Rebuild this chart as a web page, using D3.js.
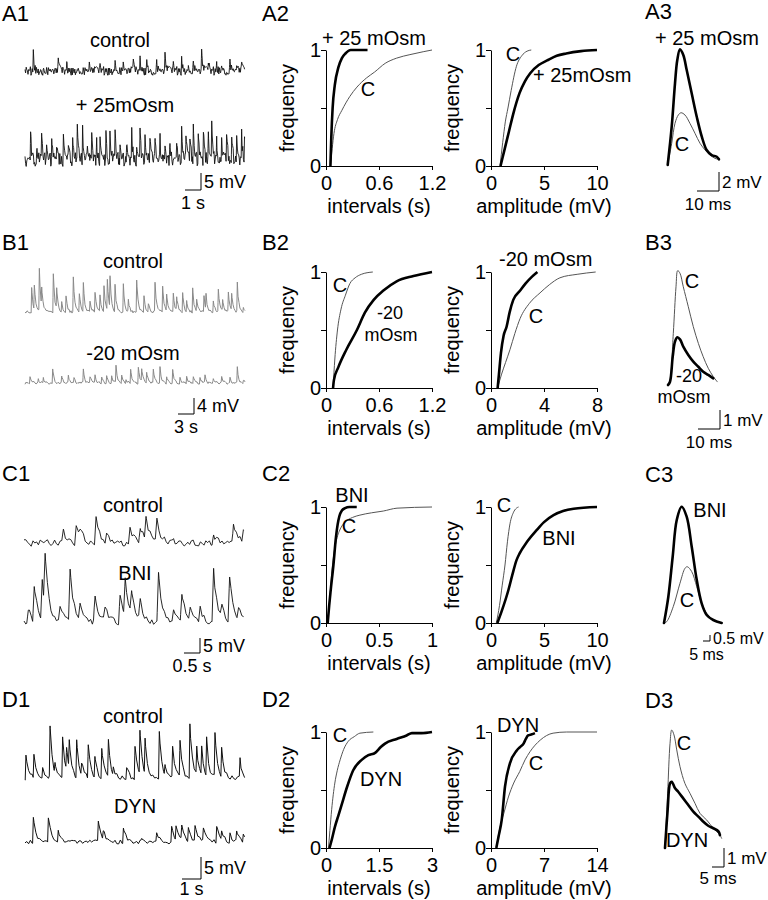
<!DOCTYPE html>
<html><head><meta charset="utf-8">
<script src="https://cdn.jsdelivr.net/npm/d3@7"></script>
<style>
body{margin:0;background:#fff}
svg text{font-family:"Liberation Sans",Arial,sans-serif;fill:#000}
</style>
</head><body>
<svg id="c" width="768" height="900"></svg>
<script>
// ================= DATA =================
// hand-typed baseline noise template (unitless, -1..1)
const NOISE = [0.3,-0.6,0.9,-0.2,-0.8,0.5,0.1,-0.4,0.7,-0.9,0.2,0.6,-0.3,-0.7,0.8,0.0,-0.5,0.4,-0.1,0.9,-0.6,0.3,-0.8,0.5,0.2,-0.4,0.6,-0.9,0.1,0.7,-0.2,-0.6,0.4,0.8,-0.3,-0.7,0.2,0.5,-0.1,-0.8,0.9,-0.4,0.3,0.0,-0.5,0.6,-0.2,0.8,-0.7,0.1,0.4,-0.9,0.5,-0.3,0.7,-0.6,0.2,-0.1,0.6,-0.4,0.3];

// Column 1 traces: events [time (s), amplitude (mV)]
const A1_CONTROL = [[0.52,5.6],[1.14,1.8],[2.08,2.6],[2.61,1.5],[3.33,1.8],[4.02,2.1],[4.69,1.8],[5.63,4.1],[6.14,2.1],[6.77,2.4],[7.19,3.2],[7.61,3.5],[8.23,2.4],[8.75,4.7],[9.27,2.4],[9.79,3.5],[10.21,2.6],[10.52,2.9],[11.04,5.6],[11.46,2.9],[11.98,2.1],[12.29,2.6],[12.81,3.5],[13.23,2.4],[13.54,1.8]];
const A1_OSM = [[0.35,8.3],[0.73,3.9],[1.04,6.4],[1.35,5.9],[1.67,6.9],[1.98,5.4],[2.40,7.8],[2.71,5.9],[2.98,7.8],[3.27,8.8],[3.60,9.8],[3.90,5.9],[4.17,7.8],[4.48,4.9],[4.69,6.9],[5.06,7.4],[5.31,7.8],[5.63,7.4],[5.94,5.9],[6.35,4.9],[6.67,8.3],[6.98,3.9],[7.19,9.3],[7.50,9.3],[7.81,5.9],[8.13,7.8],[8.44,5.9],[8.75,3.9],[9.06,5.9],[9.48,4.9],[9.79,11.8],[10.06,7.8],[10.31,6.9],[10.52,10.8],[10.83,8.3],[11.15,9.8],[11.46,9.3],[11.67,10.8],[11.98,5.9],[12.29,4.9],[12.60,8.3],[12.92,6.9],[13.23,5.9],[13.54,7.8],[13.72,5.4]];
const B1_CONTROL = [[1.25,5.8],[1.75,6.1],[2.69,10.4],[3.13,4.6],[5.31,9.8],[5.94,5.4],[6.88,2.5],[7.69,4.2],[9.06,8.6],[10.19,4.6],[10.94,7.3],[12.19,2.9],[13.13,5.0],[14.06,3.8],[14.81,6.1],[15.44,7.5],[15.94,7.9],[16.88,6.4],[18.44,7.1],[19.38,2.9],[20.94,7.9],[22.31,4.2],[23.13,2.1],[24.38,7.5],[25.81,6.4],[26.56,3.8],[27.81,4.6],[28.44,3.8],[29.56,5.0],[30.31,2.9],[31.44,5.8],[32.19,2.9],[33.56,4.2],[33.94,3.8],[35.31,2.9],[36.25,5.4],[37.06,2.9],[38.13,4.6],[38.75,4.2],[39.81,7.1],[40.94,1.3]];
const B1_M20 = [[0.94,1.3],[2.5,0.8],[3.44,1.3],[5.19,3.3],[6.88,1.7],[8.13,1.7],[9.19,1.3],[10.94,3.2],[12.19,1.7],[13.13,1.7],[14.38,1.3],[15.31,1.7],[16.25,1.7],[17.06,4.6],[18.13,1.7],[18.94,0.8],[19.81,3.3],[21.25,4.2],[21.88,3.3],[22.81,2.9],[24.06,3.3],[25.31,3.8],[26.56,1.7],[27.69,3.3],[29.06,1.3],[30.31,1.7],[31.56,1.7],[32.81,1.3],[33.75,1.7],[35.31,0.8],[36.88,1.7],[38.44,1.3],[39.81,3.8],[40.94,0.8]];
const C1_CONTROL = [[1.23,4.4],[1.63,6.1],[1.75,2.8],[2.25,8.0],[2.58,2.2],[3.31,4.4],[3.63,5.6],[3.81,7.2],[4.15,6.7],[4.67,1.1],[5.92,2.8],[6.54,7.2],[6.85,2.8]];
const C1_BNI = [[0.135,4.4],[0.32,12.2],[0.57,12.2],[0.66,16.7],[1.125,5.6],[1.44,17.2],[1.75,5.6],[2.22,9.4],[2.53,5.6],[3.0,8.9],[3.16,12.8],[3.36,7.8],[3.63,6.7],[4.2,16.7],[4.67,3.3],[4.93,10.0],[5.19,4.4],[5.5,4.4],[5.92,17.2],[6.18,3.3],[6.42,14.4],[6.7,3.9]];
const D1_CONTROL = [[0.05,4.9],[0.47,5.3],[0.93,1.9],[1.32,11.4],[1.58,2.7],[1.98,8.9],[2.19,4.9],[2.33,6.4],[2.72,8.3],[2.98,2.7],[3.33,7.6],[3.68,4.9],[4.04,6.4],[4.39,8.3],[4.65,1.9],[5.35,2.7],[5.79,7.6],[6.05,9.8],[6.32,8.0],[7.07,10.2],[7.37,2.7],[7.77,6.8],[8.16,8.0],[8.68,12.5],[9.04,6.1],[9.3,6.4],[9.56,8.3],[10.0,9.8],[10.35,6.8],[11.32,4.2]];
const D1_DYN = [[0.44,5.7],[1.23,5.5],[1.75,2.7],[3.86,4.5],[4.12,1.9],[5.18,3.4],[6.14,1.1],[6.93,1.9],[7.72,3.6],[7.95,3.0],[8.25,3.0],[8.6,2.7],[8.95,3.4],[9.39,2.7],[10.09,3.8],[10.35,1.9],[10.79,1.5],[11.14,2.7],[11.49,1.9]];

// Column 2: cumulative distributions [value, cumulative frequency]
const A2_INT_OSM = [[0.05,0],[0.06,0.25],[0.075,0.5],[0.1,0.7],[0.14,0.85],[0.18,0.93],[0.22,0.97],[0.28,1],[0.47,1]];
const A2_INT_C = [[0.05,0],[0.07,0.15],[0.09,0.28],[0.13,0.4],[0.18,0.48],[0.27,0.6],[0.35,0.68],[0.46,0.76],[0.55,0.81],[0.67,0.885],[0.8,0.93],[0.95,0.96],[1.1,0.985],[1.2,1]];
const A2_AMP_C = [[0.85,0],[1.1,0.2],[1.35,0.38],[1.6,0.5],[1.9,0.65],[2.4,0.86],[2.9,0.95],[3.4,0.99],[3.8,1]];
const A2_AMP_OSM = [[0.9,0],[1.3,0.15],[1.7,0.3],[2.1,0.45],[2.7,0.63],[3.2,0.73],[3.7,0.8],[4.5,0.87],[5.3,0.91],[6.2,0.95],[7.1,0.97],[8.5,0.99],[10,1]];
const B2_INT_C = [[0.08,0],[0.1,0.25],[0.13,0.5],[0.17,0.68],[0.22,0.8],[0.27,0.9],[0.33,0.95],[0.4,0.98],[0.53,1]];
const B2_INT_M20 = [[0.08,0],[0.09,0.07],[0.14,0.18],[0.23,0.33],[0.35,0.5],[0.44,0.65],[0.54,0.76],[0.65,0.84],[0.8,0.92],[0.99,0.965],[1.2,1]];
const B2_AMP_M20 = [[0.5,0],[0.6,0.12],[0.75,0.3],[0.95,0.45],[1.18,0.53],[1.4,0.65],[1.68,0.76],[2.2,0.84],[2.6,0.9],[3.1,0.96],[3.5,1]];
const B2_AMP_C = [[0.5,0],[0.8,0.12],[1.1,0.22],[1.43,0.33],[1.8,0.47],[2.2,0.6],[2.9,0.73],[3.7,0.82],[4.4,0.89],[5.2,0.95],[6.5,0.98],[7.9,1]];
const C2_INT_BNI = [[0.016,0],[0.03,0.15],[0.044,0.28],[0.07,0.5],[0.094,0.74],[0.11,0.85],[0.126,0.92],[0.15,0.97],[0.18,0.99],[0.22,1],[0.29,1]];
const C2_INT_C = [[0.016,0],[0.035,0.2],[0.054,0.43],[0.075,0.6],[0.1,0.72],[0.14,0.82],[0.18,0.87],[0.25,0.91],[0.32,0.93],[0.43,0.95],[0.54,0.965],[0.67,0.99],[1,1]];
const C2_AMP_BNI = [[0.6,0],[1.0,0.1],[1.63,0.28],[2.0,0.41],[2.4,0.54],[2.7,0.6],[3.4,0.7],[4.3,0.8],[5.0,0.87],[5.9,0.93],[6.8,0.965],[7.8,0.985],[10,1]];
const C2_AMP_C = [[0.5,0],[0.8,0.15],[1.05,0.32],[1.32,0.5],[1.55,0.7],[1.8,0.86],[2.1,0.95],[2.4,0.99],[2.6,1]];
const D2_INT_C = [[0.07,0],[0.11,0.15],[0.16,0.33],[0.25,0.56],[0.32,0.67],[0.4,0.76],[0.5,0.85],[0.63,0.92],[0.8,0.96],[0.96,0.99],[1.34,1]];
const D2_INT_DYN = [[0.1,0],[0.17,0.08],[0.25,0.18],[0.35,0.28],[0.44,0.37],[0.6,0.53],[0.77,0.67],[1.01,0.76],[1.2,0.8],[1.39,0.82],[1.55,0.87],[1.67,0.9],[2.0,0.94],[2.28,0.97],[2.43,0.99],[2.7,0.99],[3.0,1]];
const D2_AMP_DYN = [[0.7,0],[1.0,0.1],[1.41,0.24],[1.85,0.53],[2.5,0.73],[3.4,0.84],[3.83,0.87],[4.3,0.9],[4.6,0.94],[4.9,0.97],[5.4,0.98],[5.8,0.99]];
const D2_AMP_C = [[0.7,0],[1.19,0.18],[1.7,0.3],[2.3,0.44],[3.0,0.56],[3.8,0.66],[4.5,0.76],[5.15,0.83],[6.5,0.93],[8.2,0.99],[10,1],[14,1]];

// Column 3: averaged EPSPs [time (ms), mV]
const A3_OSM = [[0,0],[1.82,4.03],[3.32,8.6],[4.36,11.05],[5.59,12.18],[7.09,11.58],[8.64,10],[10.9,7.55],[13.2,5.08],[15.5,2.98],[17.7,1.58],[20,1.05],[22.3,0.87],[23.3,0.6]];
const A3_C = [[0,0],[1.82,2.28],[3.32,4.39],[4.82,5.26],[6.05,5.5],[7.86,5.26],[10.1,4.39],[12.4,3.34],[14.7,2.28],[17,1.58],[19.2,1.05],[21.5,0.7],[23,0.6]];
const B3_C = [[0,0],[0.91,0.26],[2.41,2.72],[3.64,5.17],[4.41,6.02],[5.45,5.88],[6.95,5.17],[9.23,4.12],[11.5,3.07],[13.8,2.19],[16.0,1.49],[18.3,0.88],[20.6,0.44],[22.4,0.17]];
const B3_M20 = [[0,0],[0.91,0.17],[2.14,1.49],[3.18,2.28],[4.23,2.51],[5.45,2.4],[6.95,2.02],[9.23,1.58],[11.5,1.23],[13.8,0.96],[16.0,0.7],[18.3,0.53],[20.6,0.35]];
const C3_BNI = [[0,0],[3.1,2.19],[6.2,5.52],[9.1,8.58],[12.6,9.69],[16.2,8.86],[19.8,6.36],[23.4,3.58],[26.9,1.64],[30.5,0.67],[35.2,0.25],[41.2,0]];
const C3_C = [[0,0],[1.9,0.11],[6.6,1.36],[11.4,3.31],[15,4.56],[16.6,4.69],[19.8,4.28],[23.4,3.03],[26.9,1.64],[30.5,0.81],[35.2,0.25],[39.5,0.06]];
const D3_C = [[0,0],[1.1,2.88],[2.1,5.51],[2.8,6.21],[3.75,5.95],[4.9,5.16],[6.25,4.28],[8.3,3.4],[10.4,2.88],[12.5,2.35],[14.6,1.82],[17.4,1.47],[20.1,1.04],[22.9,0.68],[23.6,0.51]];
const D3_DYN = [[0,0],[1.1,2.0],[2.1,3.4],[2.8,3.49],[4.2,3.14],[5.5,2.96],[7.6,2.61],[9.7,2.26],[11.8,1.91],[13.9,1.65],[16,1.38],[18,1.17],[20.1,1.04],[22.2,0.89],[22.9,0.68]];

// ================= DRAWING =================
const svg = d3.select('#c');
const FS = 20;
function text(x, y, s, anchor, size) {
  return svg.append('text').attr('x', x).attr('y', y)
    .attr('text-anchor', anchor || 'start').attr('font-size', size || FS).text(s);
}

// panel letters
[["A1",2,21],["A2",262,21],["A3",645,19],["B1",2,250],["B2",262,250],["B3",645,250],
 ["C1",2,481],["C2",262,481],["C3",645,482],["D1",2,707],["D2",262,707],["D3",645,708]]
 .forEach(([s,x,y]) => text(x, y, s, 'start', 22));

// ---------- column 1: raw traces ----------
function trace(c) {
  const x = d3.scaleLinear().domain([0, c.dur]).range([c.x0, c.x1]);
  const y = d3.scaleLinear().domain([0, 1]).range([c.yb, c.yb - c.pxmv]);
  const dt = c.step / (x(1) - x(0));
  const ts = [];
  for (let t = 0; t <= c.dur + 1e-9; t += dt) ts.push(t);
  c.events.forEach(([ti]) => { ts.push(ti); ts.push(ti - c.rise); });
  ts.sort((a, b) => a - b);
  const pts = ts.filter(t => t >= 0 && t <= c.dur).map(t => {
    const k = Math.round(t / dt);
    let v = c.noise * NOISE[(k * c.stride + c.off) % NOISE.length];
    c.events.forEach(([ti, a]) => {
      if (t >= ti) v += a * Math.exp(-(t - ti) / c.tau);
      else if (t >= ti - c.rise) v += a * (1 - (ti - t) / c.rise);
    });
    return [t, v];
  });
  svg.append('path').datum(pts)
    .attr('d', d3.line().x(d => x(d[0])).y(d => y(d[1])))
    .attr('fill', 'none').attr('stroke', c.color).attr('stroke-width', c.w)
    .attr('stroke-linejoin', 'round');
  return {x, y};
}
function scaleBar(sc, cx, cy, tval, vval, tlab, vlab, tdy, fs) {
  const w = sc.x(tval) - sc.x(0), h = sc.y(0) - sc.y(vval);
  svg.append('path').attr('d', `M${cx - w},${cy}H${cx}V${cy - h}`)
    .attr('fill', 'none').attr('stroke', '#000').attr('stroke-width', 1);
  text(cx + 3, cy - h / 2 + 6, vlab, 'start', fs || 18);
  text(cx - w / 2, cy + (tdy || 19), tlab, 'middle', fs || 18);
}

// A1
text(120, 47, 'control', 'middle');
trace({events: A1_CONTROL, x0: 25, x1: 245, yb: 71, dur: 13.75, pxmv: 3.4, noise: 1.4, step: 0.6, stride: 7, off: 0, tau: 0.06, rise: 0.03, color: '#111', w: 0.9});
text(125, 112, '+ 25mOsm', 'middle');
const sA1 = trace({events: A1_OSM, x0: 25, x1: 245, yb: 160, dur: 13.75, pxmv: 3.4, noise: 2.1, step: 0.6, stride: 11, off: 5, tau: 0.06, rise: 0.03, color: '#111', w: 0.9});
scaleBar(sA1, 201, 190, 1, 5, '1 s', '5 mV');

// B1
text(133, 268, 'control', 'middle');
trace({events: B1_CONTROL, x0: 25, x1: 245, yb: 312, dur: 41.25, pxmv: 4, noise: 0.4, step: 1, stride: 13, off: 3, tau: 0.25, rise: 0.1, color: '#8a8a8a', w: 1});
text(133, 360, '-20 mOsm', 'middle');
const sB1 = trace({events: B1_M20, x0: 25, x1: 245, yb: 383, dur: 41.25, pxmv: 4, noise: 0.35, step: 1, stride: 17, off: 9, tau: 0.25, rise: 0.1, color: '#8a8a8a', w: 1});
scaleBar(sB1, 194, 414, 3, 4, '3 s', '4 mV');

// C1
text(133, 512, 'control', 'middle');
trace({events: C1_CONTROL, x0: 24, x1: 245, yb: 543, dur: 6.9, pxmv: 3, noise: 1.2, step: 1.8, stride: 17, off: 2, tau: 0.12, rise: 0.05, color: '#111', w: 0.9});
text(135, 580, 'BNI', 'middle');
const sC1 = trace({events: C1_BNI, x0: 24, x1: 245, yb: 623, dur: 6.9, pxmv: 3, noise: 1.1, step: 1.8, stride: 23, off: 11, tau: 0.12, rise: 0.05, color: '#111', w: 0.9});
scaleBar(sC1, 200, 653, 0.5, 5, '0.5 s', '5 mV');

// D1
text(133, 723, 'control', 'middle');
trace({events: D1_CONTROL, x0: 25, x1: 245, yb: 778, dur: 11.58, pxmv: 4.4, noise: 0.6, step: 1.8, stride: 19, off: 4, tau: 0.12, rise: 0.04, color: '#111', w: 1});
text(135, 813, 'DYN', 'middle');
const sD1 = trace({events: D1_DYN, x0: 25, x1: 245, yb: 842, dur: 11.58, pxmv: 4.4, noise: 0.5, step: 1.8, stride: 29, off: 7, tau: 0.15, rise: 0.04, color: '#111', w: 1});
scaleBar(sD1, 201, 879, 1, 5, '1 s', '5 mV', 16);

// ---------- column 2: cumulative plots ----------
function cdf(c) {
  const x = d3.scaleLinear().domain([0, c.xmax]).range([c.x0, c.x0 + 106]);
  const y = d3.scaleLinear().domain([0, 1]).range([c.yb, c.yb - 116]);
  const ya = svg.append('g').attr('transform', `translate(${c.x0},0)`)
    .call(d3.axisLeft(y).tickValues([0, 0.5, 1]).tickFormat(d => d === 0.5 ? '' : d)
      .tickSize(5).tickSizeOuter(0).tickPadding(0));
  const xa = svg.append('g').attr('transform', `translate(0,${c.yb})`)
    .call(d3.axisBottom(x).tickValues(c.ticks).tickFormat((d, i) => c.tickLabels[i])
      .tickSize(4).tickSizeOuter(0).tickPadding(6));
  [ya, xa].forEach(a => {
    a.attr('font-size', FS).attr('font-family', null);
    a.selectAll('path,line').attr('stroke', '#000').attr('stroke-width', 1);
    a.selectAll('text').attr('fill', '#000');
  });
  c.series.forEach(s => svg.append('path').datum(s.data)
    .attr('d', d3.line().x(d => x(d[0])).y(d => y(d[1])).curve(d3.curveMonotoneX))
    .attr('fill', 'none').attr('stroke', s.thick ? '#000' : '#555')
    .attr('stroke-width', s.thick ? 2.6 : 1));
  svg.append('text').attr('transform', `translate(${c.x0 - 32},${c.yb - 58}) rotate(-90)`)
    .attr('text-anchor', 'middle').attr('font-size', FS).text('frequency');
  text(c.x0 + 53, c.yb + 47, c.xlabel, 'middle');
}
const INT = 'intervals (s)', AMP = 'amplitude (mV)';
cdf({x0: 326, yb: 166, xmax: 1.2, ticks: [0, 0.6, 1.2], tickLabels: ['0', '0.6', '1.2'], xlabel: INT, series: [{data: A2_INT_C}, {data: A2_INT_OSM, thick: 1}]});
cdf({x0: 491, yb: 166, xmax: 10, ticks: [0, 5, 10], tickLabels: ['0', '5', '10'], xlabel: AMP, series: [{data: A2_AMP_C}, {data: A2_AMP_OSM, thick: 1}]});
cdf({x0: 326, yb: 388, xmax: 1.2, ticks: [0, 0.6, 1.2], tickLabels: ['0', '0.6', '1.2'], xlabel: INT, series: [{data: B2_INT_C}, {data: B2_INT_M20, thick: 1}]});
cdf({x0: 491, yb: 388, xmax: 8, ticks: [0, 4, 8], tickLabels: ['0', '4', '8'], xlabel: AMP, series: [{data: B2_AMP_C}, {data: B2_AMP_M20, thick: 1}]});
cdf({x0: 326, yb: 623, xmax: 1, ticks: [0, 0.5, 1], tickLabels: ['0', '0.5', '1'], xlabel: INT, series: [{data: C2_INT_C}, {data: C2_INT_BNI, thick: 1}]});
cdf({x0: 491, yb: 623, xmax: 10, ticks: [0, 5, 10], tickLabels: ['0', '5', '10'], xlabel: AMP, series: [{data: C2_AMP_C}, {data: C2_AMP_BNI, thick: 1}]});
cdf({x0: 326, yb: 848, xmax: 3, ticks: [0, 1.5, 3], tickLabels: ['0', '1.5', '3'], xlabel: INT, series: [{data: D2_INT_C}, {data: D2_INT_DYN, thick: 1}]});
cdf({x0: 491, yb: 848, xmax: 14, ticks: [0, 7, 14], tickLabels: ['0', '7', '14'], xlabel: AMP, series: [{data: D2_AMP_C}, {data: D2_AMP_DYN, thick: 1}]});

// curve labels
text(322, 45, '+ 25 mOsm'); text(368, 96, 'C', 'middle');
text(513, 61, 'C', 'middle'); text(533, 82, '+ 25mOsm');
text(340, 292, 'C', 'middle'); text(390, 319, '-20', 'middle', 18); text(391, 341, 'mOsm', 'middle', 18);
text(499, 266, '-20 mOsm'); text(536, 323, 'C', 'middle');
text(352, 502, 'BNI', 'middle'); text(349, 533, 'C', 'middle');
text(504, 512, 'C', 'middle'); text(559, 545, 'BNI', 'middle');
text(340, 742, 'C', 'middle'); text(381, 786, 'DYN', 'middle');
text(518, 732, 'DYN', 'middle'); text(536, 770, 'C', 'middle');

// ---------- column 3: averaged EPSPs ----------
function epsp(c) {
  const x = d3.scaleLinear().domain([0, 1]).range([c.ox, c.ox + c.pxms]);
  const y = d3.scaleLinear().domain([0, 1]).range([c.oy, c.oy - c.pxmv]);
  c.series.forEach(s => svg.append('path').datum(s.data)
    .attr('d', d3.line().x(d => x(d[0])).y(d => y(d[1])).curve(d3.curveCatmullRom))
    .attr('fill', 'none').attr('stroke', s.thick ? '#000' : '#555')
    .attr('stroke-width', s.thick ? 2.6 : 1).attr('stroke-linecap', 'round'));
  return {x, y};
}
const sA3 = epsp({ox: 667.7, oy: 165, pxms: 2.2, pxmv: 9.5, series: [{data: A3_C}, {data: A3_OSM, thick: 1}]});
text(655, 45, '+ 25 mOsm'); text(682, 151, 'C', 'middle');
scaleBar(sA3, 719, 191, 10, 2, '10 ms', '2 mV', 19, 17);

const sB3 = epsp({ox: 668, oy: 385, pxms: 2.2, pxmv: 19, series: [{data: B3_C}, {data: B3_M20, thick: 1}]});
text(692, 288, 'C', 'middle'); text(689, 382, '-20', 'middle', 18); text(684, 403, 'mOsm', 'middle', 18);
scaleBar(sB3, 720, 429, 10, 1, '10 ms', '1 mV', 19, 17);

const sC3 = epsp({ox: 664, oy: 623, pxms: 1.4, pxmv: 12, series: [{data: C3_C}, {data: C3_BNI, thick: 1}]});
text(710, 517, 'BNI', 'middle'); text(687, 607, 'C', 'middle');
scaleBar(sC3, 710, 641, 5, 0.5, '5 ms', '0.5 mV', 19, 16);

const sD3 = epsp({ox: 665, oy: 848, pxms: 2.4, pxmv: 19, series: [{data: D3_C}, {data: D3_DYN, thick: 1}]});
text(684, 750, 'C', 'middle'); text(687, 847, 'DYN', 'middle');
scaleBar(sD3, 724, 867, 5, 1, '5 ms', '1 mV', 17, 17);
</script>
</body></html>
